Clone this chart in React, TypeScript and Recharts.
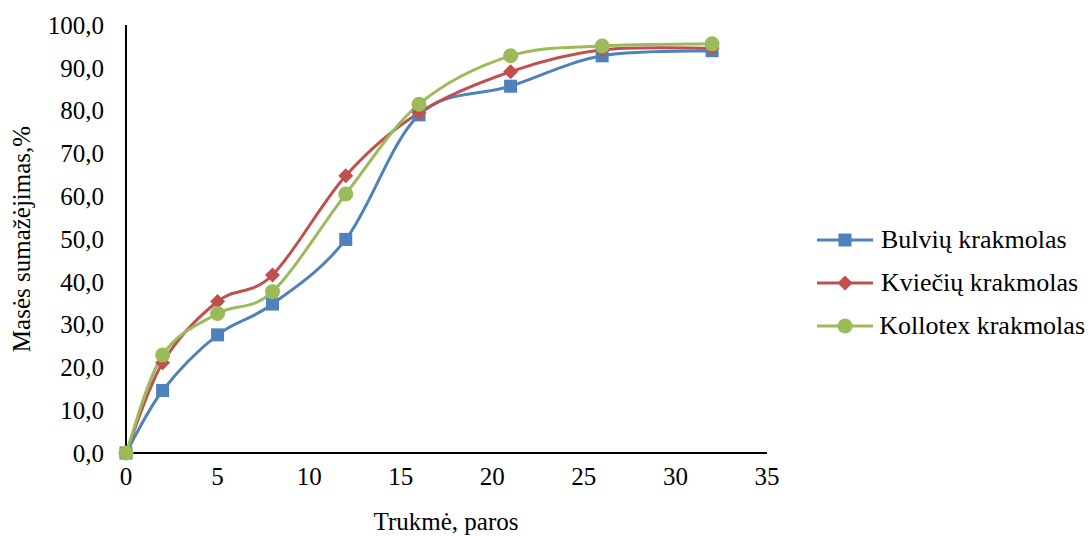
import { Legend, Line, LineChart, XAxis, YAxis } from "recharts";

const days = [0, 2, 5, 8, 12, 16, 21, 26, 32];
const bulviu = [0, 14.6, 27.6, 34.8, 49.9, 79.0, 85.7, 92.8, 94.0];
const kvieciu = [0, 21.1, 35.4, 41.6, 64.8, 79.5, 89.1, 94.2, 94.6];
const kollotex = [0, 22.9, 32.6, 37.7, 60.5, 81.5, 92.8, 95.1, 95.6];

const xTicks = [0, 5, 10, 15, 20, 25, 30, 35];
const yTicks = [0, 10, 20, 30, 40, 50, 60, 70, 80, 90, 100];

const seriesNames = ["Bulvių krakmolas", "Kviečių krakmolas", "Kollotex krakmolas"];

const data = days.map((d, i) => ({
  day: d,
  bulviu: bulviu[i],
  kvieciu: kvieciu[i],
  kollotex: kollotex[i],
}));

const font = "Liberation Serif, DejaVu Serif, serif";

const series = [
  { key: "bulviu", name: seriesNames[0], color: "#4F81BD", marker: "square" },
  { key: "kvieciu", name: seriesNames[1], color: "#C0504D", marker: "diamond" },
  { key: "kollotex", name: seriesNames[2], color: "#9BBB59", marker: "circle" },
];

// smooth line like the spreadsheet one (catmull-rom through points)
function smoothCurve(context: any) {
  let pts: number[][] = [];
  return {
    areaStart() {},
    areaEnd() {},
    lineStart() {
      pts = [];
    },
    point(x: number, y: number) {
      pts.push([+x, +y]);
    },
    lineEnd() {
      const n = pts.length;
      if (!n) return;
      context.moveTo(pts[0][0], pts[0][1]);
      for (let i = 0; i < n - 1; i++) {
        const p0 = pts[i - 1] || pts[i];
        const p1 = pts[i];
        const p2 = pts[i + 1];
        const p3 = pts[i + 2] || p2;
        context.bezierCurveTo(
          p1[0] + (p2[0] - p0[0]) / 6,
          p1[1] + (p2[1] - p0[1]) / 6,
          p2[0] - (p3[0] - p1[0]) / 6,
          p2[1] - (p3[1] - p1[1]) / 6,
          p2[0],
          p2[1],
        );
      }
    },
  };
}

function Marker({ kind, cx, cy, color }: { kind: string; cx: number; cy: number; color: string }) {
  if (kind === "square") {
    return <rect x={cx - 6.5} y={cy - 6.5} width={13} height={13} fill={color} />;
  }
  if (kind === "diamond") {
    return (
      <polygon
        points={`${cx},${cy - 7.5} ${cx + 7.5},${cy} ${cx},${cy + 7.5} ${cx - 7.5},${cy}`}
        fill={color}
      />
    );
  }
  return <circle cx={cx} cy={cy} r={7.5} fill={color} />;
}

function renderLegend() {
  return (
    <div style={{ fontFamily: font, fontSize: 26, color: "#000" }}>
      {series.map((s) => (
        <div key={s.key} style={{ display: "flex", alignItems: "center", height: 43 }}>
          <svg width={62} height={20} style={{ marginRight: 4 }}>
            <line x1={2} y1={10} x2={58} y2={10} stroke={s.color} strokeWidth={3} />
            <Marker kind={s.marker} cx={30} cy={10} color={s.color} />
          </svg>
          <span style={{ whiteSpace: "nowrap" }}>{s.name}</span>
        </div>
      ))}
    </div>
  );
}

const fmt = (v: number) => v.toFixed(1).replace(".", ",");

export default function App() {
  return (
    <div style={{ position: "absolute", left: 0, top: 0, background: "#fff", fontFamily: font }}>
      <LineChart
        width={1091}
        height={536}
        data={data}
        margin={{ top: 25, right: 54, bottom: 0, left: 0 }}
        style={{ fontFamily: font }}
      >
        <XAxis
          dataKey="day"
          type="number"
          domain={[0, 35]}
          ticks={xTicks}
          tickLine={false}
          tickMargin={8}
          height={83}
          axisLine={{ stroke: "#000", strokeWidth: 2 }}
          tick={{ fill: "#000", fontSize: 25, fontFamily: font }}
          label={{
            content: () => (
              <text x={446} y={530} textAnchor="middle" fontSize={25} fontFamily={font} fill="#000">
                Trukmė, paros
              </text>
            ),
          }}
        />
        <YAxis
          type="number"
          domain={[0, 100]}
          ticks={yTicks}
          tickFormatter={fmt}
          tickLine={false}
          tickMargin={16}
          width={126}
          interval={0}
          axisLine={{ stroke: "#000", strokeWidth: 2 }}
          tick={{ fill: "#000", fontSize: 25, fontFamily: font }}
          label={{
            content: () => (
              <text
                x={30}
                y={239}
                transform="rotate(-90 30 239)"
                textAnchor="middle"
                fontSize={25}
                fontFamily={font}
                fill="#000"
              >
                Masės sumažėjimas,%
              </text>
            ),
          }}
        />
        <Legend
          layout="vertical"
          align="right"
          verticalAlign="middle"
          width={270}
          content={renderLegend}
          wrapperStyle={{ left: 815, right: "auto", top: 218 }}
        />
        {series.map((s) => (
          <Line
            key={s.key}
            dataKey={s.key}
            name={s.name}
            type={smoothCurve as any}
            stroke={s.color}
            strokeWidth={3}
            isAnimationActive={false}
            dot={(p: any) => (
              <Marker key={`${s.key}-${p.index}`} kind={s.marker} cx={p.cx} cy={p.cy} color={s.color} />
            )}
            activeDot={false}
          />
        ))}
      </LineChart>
    </div>
  );
}
